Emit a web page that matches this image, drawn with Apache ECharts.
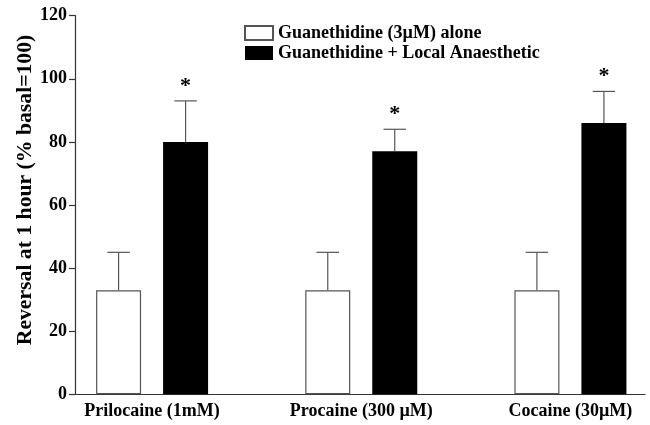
<!DOCTYPE html>
<html>
<head>
<meta charset="utf-8">
<script src="https://cdn.jsdelivr.net/npm/echarts@6/dist/echarts.min.js"></script>
<style>html,body{margin:0;padding:0;background:#fff}#c{width:650px;height:425px}</style>
</head>
<body>
<div id="c"></div>
<script>
const categories = ['Prilocaine (1mM)', 'Procaine (300 \u00b5M)', 'Cocaine (30\u00b5M)'];
const seriesNames = ['Guanethidine (3\u00b5M) alone', 'Guanethidine + Local Anaesthetic'];
const aloneMean = [33, 33, 33];
const aloneErr = [12, 12, 12];
const laMean = [80, 77, 86];
const laErr = [13, 7, 10];
const laSignificant = [true, true, true];
const yTicks = [0, 20, 40, 60, 80, 100, 120];

const FONT = 'Liberation Serif';
const BAR_W = 45;
const GAP = 22;
const LINE = '#555';

function errSeries(mean, err, dir, stars) {
  return {
    type: 'custom',
    xAxisIndex: 0, yAxisIndex: 0,
    silent: true,
    z: 5,
    data: mean.map((m, i) => [i, m, err[i], stars ? (stars[i] ? 1 : 0) : 0]),
    renderItem: function (params, api) {
      const b = api.coord([api.value(0), api.value(1)]);
      const t = api.coord([api.value(0), api.value(1) + api.value(2)]);
      const x = b[0] + dir * (BAR_W + GAP) / 2;
      const half = BAR_W / 4;
      const children = [
        {type: 'line', shape: {x1: x, y1: b[1], x2: x, y2: t[1]}, style: {stroke: LINE, lineWidth: 1.2}},
        {type: 'line', shape: {x1: x - half, y1: t[1], x2: x + half, y2: t[1]}, style: {stroke: LINE, lineWidth: 1.2}}
      ];
      if (api.value(3)) {
        children.push({type: 'text', style: {text: '*', x: x, y: t[1] - 15, align: 'center', verticalAlign: 'middle', font: 'bold 22px "' + FONT + '"', fill: '#000'}});
      }
      return {type: 'group', children: children};
    }
  };
}

const chart = echarts.init(document.getElementById('c'));
chart.setOption({
  animation: false,
  backgroundColor: '#fff',
  textStyle: {fontFamily: FONT},
  grid: [
    {left: 47.5, width: 627.5, top: 15.7, bottom: 30.7, containLabel: false, outerBoundsMode: 'none'},
    {left: 75, width: 570, top: 15.7, bottom: 30.7, containLabel: false, outerBoundsMode: 'none'}
  ],
  legend: {
    orient: 'vertical',
    left: 244, top: 24, padding: 0,
    itemWidth: 28, itemHeight: 14, itemGap: 2,
    icon: 'rect',
    data: seriesNames,
    textStyle: {fontFamily: FONT, fontWeight: 'bold', fontSize: 18, color: '#000'}
  },
  xAxis: [
    {type: 'category', gridIndex: 0, data: categories,
     axisLine: {show: false}, axisTick: {show: false},
     axisLabel: {fontFamily: FONT, fontWeight: 'bold', fontSize: 18, color: '#000', margin: 8}},
    {type: 'category', gridIndex: 1, data: categories,
     axisLine: {show: true, lineStyle: {color: '#333', width: 1.2}}, axisTick: {show: false},
     axisLabel: {show: false}}
  ],
  yAxis: [
    {type: 'value', gridIndex: 0, min: yTicks[0], max: yTicks[yTicks.length - 1], interval: 20,
     offset: -27.5,
     name: 'Reversal at 1 hour (% basal=100)', nameLocation: 'middle', nameGap: 39,
     nameMoveOverlap: false,
     nameTextStyle: {fontFamily: FONT, fontWeight: 'bold', fontSize: 21.7, color: '#000', padding: [0, 0, 0, 30]},
     axisLine: {show: true, lineStyle: {color: '#333', width: 1.2}},
     axisTick: {show: true, length: 6, lineStyle: {color: '#333', width: 1.2}},
     splitLine: {show: false},
     axisLabel: {fontFamily: FONT, fontWeight: 'bold', fontSize: 18, color: '#000', margin: 8}},
    {type: 'value', gridIndex: 1, min: 0, max: 120, interval: 20, show: false, splitLine: {show: false}}
  ],
  series: [
    {name: seriesNames[0], type: 'bar', xAxisIndex: 0, yAxisIndex: 0, data: aloneMean,
     barWidth: BAR_W, barGap: (GAP / BAR_W * 100) + '%',
     itemStyle: {color: '#fff', borderColor: LINE, borderWidth: 1.2}},
    {name: seriesNames[1], type: 'bar', xAxisIndex: 0, yAxisIndex: 0, data: laMean,
     barWidth: BAR_W, barGap: (GAP / BAR_W * 100) + '%',
     itemStyle: {color: '#000', borderColor: '#000', borderWidth: 0}},
    errSeries(aloneMean, aloneErr, -1, null),
    errSeries(laMean, laErr, 1, laSignificant)
  ]
});
</script>
</body>
</html>
